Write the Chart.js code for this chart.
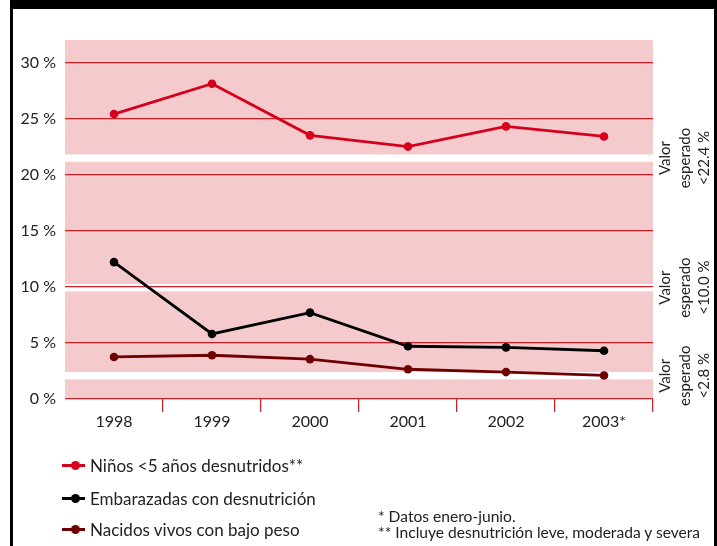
<!DOCTYPE html>
<html>
<head>
<meta charset="utf-8">
<script src="https://cdn.jsdelivr.net/npm/chart.js@4.4.1/dist/chart.umd.min.js"></script>
<style>
  html, body { margin: 0; padding: 0; background: #fff; }
  #wrap { position: relative; width: 717px; height: 546px; overflow: hidden; font-family: Lato, "Open Sans", sans-serif; color: #222; }
  #chart { position: absolute; left: 0; top: 0; }
  .bar { position: absolute; background: #000; }
  .leg { position: absolute; left: 62px; height: 20px; display: flex; align-items: center; font-size: 17px; white-space: nowrap; }
  .mark { position: relative; width: 23px; height: 3px; margin-right: 5px; }
  .mark i { position: absolute; left: 9px; top: -3px; width: 9px; height: 9px; border-radius: 50%; }
  .note { position: absolute; left: 378px; font-size: 15.6px; line-height: 18px; white-space: nowrap; }
</style>
</head>
<body>
<div id="wrap">
  <canvas id="chart" width="717" height="546"></canvas>
  <div class="bar" style="left:10px;top:0;width:707px;height:9px"></div>
  <div class="bar" style="left:10px;top:0;width:3px;height:546px"></div>
  <div class="bar" style="left:714px;top:0;width:3px;height:546px"></div>
  <div id="legend"></div>
  <div class="note" style="top:507px">* Datos enero-junio.</div>
  <div class="note" style="top:523px">** Incluye desnutrición leve, moderada y severa</div>
</div>
<script>
// Years on the horizontal axis
const years = ['1998', '1999', '2000', '2001', '2002', '2003*'];

// Series (percent)
const ninosDesnutridos = [25.4, 28.1, 23.5, 22.5, 24.3, 23.4];
const embarazadasDesnutricion = [12.2, 5.8, 7.7, 4.7, 4.6, 4.3];
const nacidosBajoPeso = [3.75, 3.9, 3.55, 2.65, 2.4, 2.1];

const seriesNames = ['Niños <5 años desnutridos**', 'Embarazadas con desnutrición', 'Nacidos vivos con bajo peso'];
const seriesColors = ['#d5001c', '#000000', '#6e0000'];

// Y axis ticks
const yTicks = [0, 5, 10, 15, 20, 25, 30];

// Expected-value bands (percent, lower/upper edge of each white break) and their labels
const gapBands = [[21.15, 21.8], [9.6, 10.25], [1.75, 2.4]];
const expectedValues = ['<22.4 %', '<10.0 %', '<2.8 %'];

const PINK = '#f5cacd';
const GRID_RED = '#d01e26';
const TEXT = '#222222';

const bandsPlugin = {
  id: 'bands',
  beforeDraw(chart) {
    const { ctx, chartArea: { left, right, top, bottom }, scales: { y } } = chart;
    ctx.save();
    ctx.fillStyle = PINK;
    ctx.fillRect(left, top, right - left, bottom - top);
    ctx.fillStyle = '#ffffff';
    gapBands.forEach(([lo, hi]) => {
      const y1 = y.getPixelForValue(hi);
      const y2 = y.getPixelForValue(lo);
      ctx.fillRect(left, y1, right - left, y2 - y1);
    });
    ctx.restore();
  },
  afterDraw(chart) {
    const { ctx, chartArea: { right }, scales: { y } } = chart;
    ctx.save();
    ctx.fillStyle = TEXT;
    ctx.font = '15px Lato, "Open Sans", sans-serif';
    ctx.textAlign = 'center';
    ctx.textBaseline = 'middle';
    const cols = [12, 32, 51];
    gapBands.forEach(([lo, hi], i) => {
      const cy = y.getPixelForValue((lo + hi) / 2);
      ['Valor', 'esperado', expectedValues[i]].forEach((txt, j) => {
        ctx.save();
        ctx.translate(right + cols[j], cy);
        ctx.rotate(-Math.PI / 2);
        ctx.fillText(txt, 0, 0);
        ctx.restore();
      });
    });
    ctx.restore();
  }
};

const seriesData = [ninosDesnutridos, embarazadasDesnutricion, nacidosBajoPeso];

new Chart(document.getElementById('chart'), {
  type: 'line',
  data: {
    labels: years,
    datasets: seriesData.map((d, i) => ({
      label: seriesNames[i],
      data: d,
      borderColor: seriesColors[i],
      backgroundColor: seriesColors[i],
      pointBackgroundColor: seriesColors[i],
      pointBorderColor: seriesColors[i],
      pointRadius: 4.3,
      pointBorderWidth: 0,
      borderWidth: 2.8,
      tension: 0,
      fill: false
    }))
  },
  options: {
    responsive: false,
    animation: false,
    layout: { padding: { left: 13, right: 64, top: 40, bottom: 117 } },
    plugins: { legend: { display: false }, tooltip: { enabled: false } },
    scales: {
      x: {
        offset: true,
        border: { display: false },
        grid: {
          offset: true,
          drawOnChartArea: false,
          drawTicks: true,
          tickLength: 13,
          lineWidth: 1.2,
          color: (c) => (c.index === 0 || c.index === years.length) ? 'rgba(0,0,0,0)' : GRID_RED
        },
        ticks: { color: TEXT, font: { family: 'Lato', size: 16 }, padding: 0, maxRotation: 0 },
        afterFit(scale) { scale.height = 30; }
      },
      y: {
        min: 0,
        max: 32,
        border: { display: false },
        grid: { color: GRID_RED, lineWidth: 1.2, drawTicks: false },
        afterBuildTicks(scale) { scale.ticks = yTicks.map(v => ({ value: v })); },
        ticks: {
          color: TEXT,
          font: { family: 'Lato', size: 16 },
          padding: 9,
          callback: (v) => v + ' %'
        },
        afterFit(scale) { scale.width = 52; }
      }
    }
  },
  plugins: [bandsPlugin]
});

// Legend rows
const legendCenters = [465, 498, 529];
const legend = document.getElementById('legend');
seriesNames.forEach((name, i) => {
  const row = document.createElement('div');
  row.className = 'leg';
  row.style.top = (legendCenters[i] - 10) + 'px';
  const mark = document.createElement('div');
  mark.className = 'mark';
  mark.style.background = seriesColors[i];
  const dot = document.createElement('i');
  dot.style.background = seriesColors[i];
  mark.appendChild(dot);
  const label = document.createElement('span');
  label.textContent = name;
  row.appendChild(mark);
  row.appendChild(label);
  legend.appendChild(row);
});
</script>
</body>
</html>
